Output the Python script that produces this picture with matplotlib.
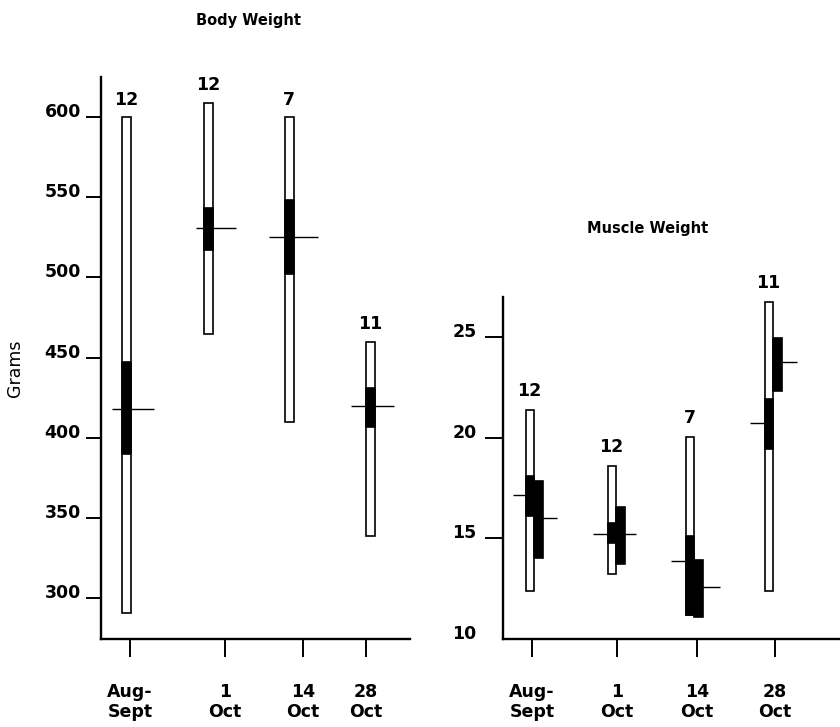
import matplotlib
matplotlib.use("Agg")
import matplotlib.pyplot as plt

# Dice-type diagrams: white = range, black = 2 SE band, tick = mean
weeks = ['Aug-\nSept', '1\nOct', '14\nOct', '28\nOct']

body_n = [12, 12, 7, 11]
body_min = [291, 465, 410, 339]
body_max = [600, 609, 600, 460]
body_se_lo = [390, 517, 502, 407]
body_se_hi = [447, 543, 548, 431]
body_mean = [418, 531, 525, 420]

muscle_n = [12, 12, 7, 11]
muscle_min = [12.4, 13.25, 11.2, 12.4]
muscle_max = [21.4, 18.6, 20.05, 26.75]
muscle_se_lo = [16.1, 14.75, 11.2, 19.45]
muscle_se_hi = [18.1, 15.75, 15.1, 21.95]
muscle_mean = [17.15, 15.2, 13.9, 20.75]
# second (black only) bar beside each muscle bar
muscle2_se_lo = [14.05, 13.75, 11.1, 22.35]
muscle2_se_hi = [17.85, 16.55, 13.95, 24.95]
muscle2_mean = [16.0, 15.2, 12.6, 23.75]

# layout (x in pixel units from the y axis)
body_tick_x = [29, 124, 202, 265]
body_bar_x = [25.5, 107, 188, 269]
body_mean_left = [15, 12, 20, 19]
body_mean_right = [27, 28, 29, 24]

muscle_tick_x = [29, 114, 194, 272]
muscle_bar_x = [26.5, 108.5, 187, 265.5]
muscle2_bar_x = [35, 117, 195.5, 274]
muscle_mean_left = [16.5, 18.5, 19, 18.5]
muscle2_mean_right = [19, 16, 21.5, 20]

W, H = 840, 727
FS = 12.5
LW = 1.2

plt.rcParams['font.family'] = ['DejaVu Sans']
plt.rcParams['font.weight'] = 'bold'

fig = plt.figure(figsize=(W / 100, H / 100), dpi=100)


def style_axes(ax, ticklen_y, pad_y):
    for s in ['top', 'right']:
        ax.spines[s].set_visible(False)
    for s in ['left', 'bottom']:
        ax.spines[s].set_linewidth(1.7)
    ax.tick_params(axis='y', length=ticklen_y, width=1.4, pad=pad_y, labelsize=FS)
    ax.tick_params(axis='x', length=13, width=1.4, pad=19, labelsize=FS)
    for lab in ax.get_yticklabels():
        lab.set_va('baseline')
    for lab in ax.get_xticklabels():
        lab.set_linespacing(1.1)


# ---- Body weight ----
ax1 = fig.add_axes([101 / W, (H - 639) / H, 309 / W, (639 - 77) / H])
ax1.set_xlim(0, 309)
ax1.set_ylim(274.5, 625)

for i in range(len(weeks)):
    x = body_bar_x[i]
    ax1.hlines(body_mean[i], x - body_mean_left[i], x + body_mean_right[i],
               color='black', lw=1.0, zorder=1)
    ax1.bar(x, body_max[i] - body_min[i], bottom=body_min[i], width=9,
            color='white', edgecolor='black', linewidth=LW, zorder=2)
    ax1.bar(x, body_se_hi[i] - body_se_lo[i], bottom=body_se_lo[i], width=9,
            color='black', edgecolor='black', linewidth=LW, zorder=3)
    ax1.annotate(str(body_n[i]), (x, body_max[i]), xytext=(0, 6),
                 textcoords='offset points', ha='center', va='bottom', fontsize=FS)

ax1.set_yticks([300, 350, 400, 450, 500, 550, 600])
ax1.set_xticks(body_tick_x)
ax1.set_xticklabels(weeks)
style_axes(ax1, 11, 3.5)

# ---- Muscle weight ----
ax2 = fig.add_axes([503 / W, (H - 639) / H, 337 / W, (639 - 297) / H])
ax2.set_xlim(0, 337)
ax2.set_ylim(10, 27)

for i in range(len(weeks)):
    x = muscle_bar_x[i]
    x2 = muscle2_bar_x[i]
    ax2.hlines(muscle_mean[i], x - muscle_mean_left[i], x,
               color='black', lw=1.0, zorder=1)
    ax2.hlines(muscle2_mean[i], x2, x2 + muscle2_mean_right[i],
               color='black', lw=1.0, zorder=1)
    ax2.bar(x, muscle_max[i] - muscle_min[i], bottom=muscle_min[i], width=8,
            color='white', edgecolor='black', linewidth=LW, zorder=2)
    ax2.bar(x, muscle_se_hi[i] - muscle_se_lo[i], bottom=muscle_se_lo[i], width=8,
            color='black', edgecolor='black', linewidth=LW, zorder=3)
    ax2.bar(x2, muscle2_se_hi[i] - muscle2_se_lo[i], bottom=muscle2_se_lo[i], width=9,
            color='black', edgecolor='black', linewidth=LW, zorder=3)
    ax2.annotate(str(muscle_n[i]), (x, muscle_max[i]), xytext=(0, 7),
                 textcoords='offset points', ha='center', va='bottom', fontsize=FS)

ax2.set_yticks([10, 15, 20, 25])
ax2.set_xticks(muscle_tick_x)
ax2.set_xticklabels(weeks)
style_axes(ax2, 13, 6)
ax2.yaxis.get_major_ticks()[0].tick1line.set_visible(False)

# ---- titles and label ----
fig.text(248 / W, 1 - 20 / H, 'Body Weight', ha='center', va='center', fontsize=10.5)
fig.text(648 / W, 1 - 228 / H, 'Muscle Weight', ha='center', va='center', fontsize=10.5)
fig.text(15 / W, 1 - 368 / H, 'Grams', ha='center', va='center', rotation=90,
         fontsize=12.5, fontweight='normal')

fig.savefig('out.png', dpi=100, facecolor='white')
